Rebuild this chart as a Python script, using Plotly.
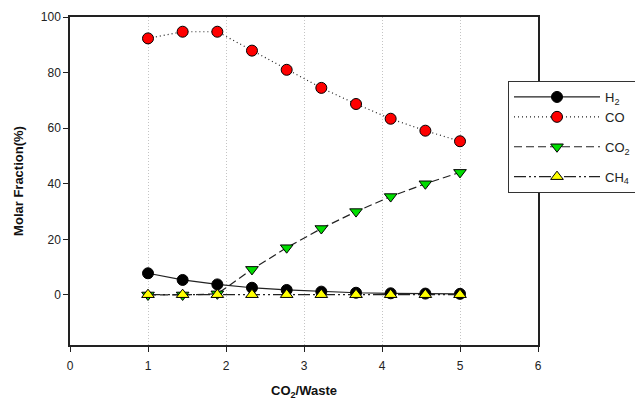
import plotly.graph_objects as go

# CO2/Waste ratio (10 equally spaced cases from 1 to 5)
ratio = [1.0, 1.444, 1.889, 2.333, 2.778, 3.222, 3.667, 4.111, 4.556, 5.0]

# Molar fractions (%)
h2 = [7.8, 5.4, 3.8, 2.6, 1.8, 1.2, 0.8, 0.6, 0.5, 0.4]
co = [92.3, 94.7, 94.7, 87.9, 81.0, 74.5, 68.7, 63.4, 59.1, 55.3]
co2 = [0.0, 0.0, 0.4, 9.2, 17.0, 23.9, 30.0, 35.4, 40.0, 44.1]
ch4 = [0.1, 0.1, 0.1, 0.1, 0.1, 0.1, 0.1, 0.1, 0.1, 0.1]

x_ticks = [0, 1, 2, 3, 4, 5, 6]
y_ticks = [0, 20, 40, 60, 80, 100]

FONT = "Liberation Sans, Arial, sans-serif"
LINE = "#222222"

series = [
    ("H<sub>2</sub>", h2, "solid", "circle", "#000000", "g1"),
    ("CO", co, "1px,3px", "circle", "#ff0000", "g1"),
    ("CO<sub>2</sub>", co2, "8px,4px", "triangle-down", "#00dd00", "g2"),
    ("CH<sub>4</sub>", ch4, "12px,3px,2px,3px,2px,3px", "triangle-up", "#ffff00", "g3"),
]

fig = go.Figure()
for name, vals, dash, sym, color, grp in series:
    fig.add_trace(go.Scatter(
        x=ratio, y=vals, name=name, mode="lines+markers",
        legendgroup=grp,
        line=dict(color=LINE, width=1.2, dash=dash),
        marker=dict(symbol=sym, size=11, color=color,
                    line=dict(color="#000000", width=1)),
    ))

fig.update_layout(
    width=635, height=402,
    margin=dict(l=70, r=97, t=17, b=57, autoexpand=False),
    paper_bgcolor="white", plot_bgcolor="white",
    font=dict(family=FONT, size=12, color="#222222"),
    legend=dict(
        xref="container", yref="container",
        x=508 / 635, y=1 - 81 / 402, xanchor="left", yanchor="top",
        bgcolor="white", bordercolor="#333333", borderwidth=1,
        itemwidth=86, tracegroupgap=10, traceorder="grouped",
        entrywidth=150, entrywidthmode="pixels",
        font=dict(family=FONT, size=13, color="#222222"),
    ),
    xaxis=dict(
        range=[0, 6], tickvals=x_ticks, ticks="outside", ticklen=5,
        tickcolor="#222222", showline=True, linecolor="#222222", linewidth=1.5,
        mirror=True, showgrid=True, gridcolor="#c4c4c4", griddash="1px,2px",
        gridwidth=1, zeroline=False, ticklabelstandoff=4,
        title=dict(text="<b>CO<sub>2</sub>/Waste</b>", standoff=14,
                   font=dict(family=FONT, size=13, color="#111111")),
        tickfont=dict(family=FONT, size=12, color="#222222"),
    ),
    yaxis=dict(
        range=[-18, 100], tickvals=y_ticks, ticks="outside", ticklen=5,
        tickcolor="#222222", showline=True, linecolor="#222222", linewidth=1.5,
        mirror=True, showgrid=False, zeroline=False,
        title=dict(text="<b>Molar Fraction(%)</b>", standoff=14,
                   font=dict(family=FONT, size=13, color="#111111")),
        tickfont=dict(family=FONT, size=12, color="#222222"),
    ),
)

fig.write_html("out.html")
